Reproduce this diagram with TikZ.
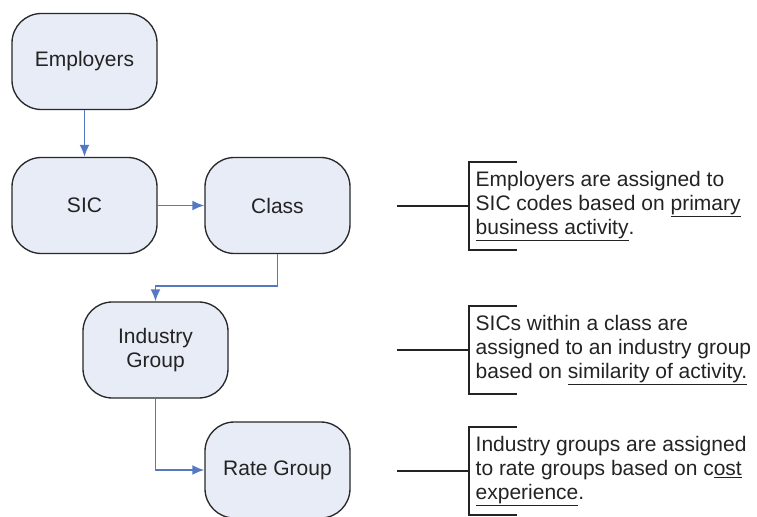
\documentclass[tikz,border=0pt]{standalone}
\usepackage{fontspec}
\setmainfont{Liberation Sans}
\usetikzlibrary{arrows.meta,positioning}
\definecolor{boxFill}{RGB}{231,236,247}
\definecolor{boxLine}{RGB}{40,40,40}
\definecolor{flowBlue}{RGB}{84,121,194}
\definecolor{noteGray}{RGB}{35,35,35}

\begin{document}
\begin{tikzpicture}[x=0.75pt,y=-0.75pt,>={Latex[length=9pt,width=7.5pt]},line
  width=1pt,font=\fontsize{15.75}{18}\selectfont]
\useasboundingbox (0,0) rectangle (757,517);
\tikzstyle{every node}=[draw=boxLine,fill=boxFill,rounded corners=22pt,
minimum width=108.75pt,minimum height=72pt,align=center,text=noteGray]
\draw (84.5,61.5) node (emp) {Employers};
\draw (84.5,205.5) node (sic) {SIC};
\draw (277.5,205.5) node (cls) {Class};
\draw (155.5,350) node (ind) {Industry\\Group};
\draw (277.5,470) node (rate) {Rate Group};

\tikzstyle{every node}=[]
\tikzstyle{note}=[anchor=west,align=left,inner xsep=4.5pt,inner ysep=0pt,
minimum height=65.25pt,text=noteGray]
\draw (469,206) node[note] (noteSic) {Employers are assigned to\\SIC codes based on \underline{primary}\\\underline{business activity}.};
\draw (469,350) node[note] (noteInd) {SICs within a class are\\assigned to an industry group\\based on \underline{similarity of activity.}};
\draw (469,471) node[note] (noteRate) {Industry groups are assigned\\to rate groups based on c\underline{ost}\\\underline{experience}.};

\coordinate (tSic) at (397,206);
\coordinate (tInd) at (397,350);
\coordinate (tRate) at (397,471);

\draw[->,flowBlue,line width=1.4pt] (emp) -- (sic);
\draw[->,flowBlue,line width=1.4pt] (sic) -- (cls);
\draw[->,flowBlue,line width=1.4pt] (cls.south) -- ++(0,32) -| (ind.north);
\draw[->,flowBlue,line width=1.4pt] (ind.south) |- (rate.west);

\draw[noteGray,line width=1.2pt] (tSic) -- (noteSic.west);
\draw[noteGray,line width=1.2pt] ([xshift=36pt]noteSic.north west) -- (noteSic.north west) -- (noteSic.south west) -- ++(48,0);
\draw[noteGray,line width=1.2pt] (tInd) -- (noteInd.west);
\draw[noteGray,line width=1.2pt] ([xshift=36pt]noteInd.north west) -- (noteInd.north west) -- (noteInd.south west) -- ++(48,0);
\draw[noteGray,line width=1.2pt] (tRate) -- (noteRate.west);
\draw[noteGray,line width=1.2pt] ([xshift=36pt]noteRate.north west) -- (noteRate.north west) -- (noteRate.south west) -- ++(48,0);

\end{tikzpicture}
\end{document}
